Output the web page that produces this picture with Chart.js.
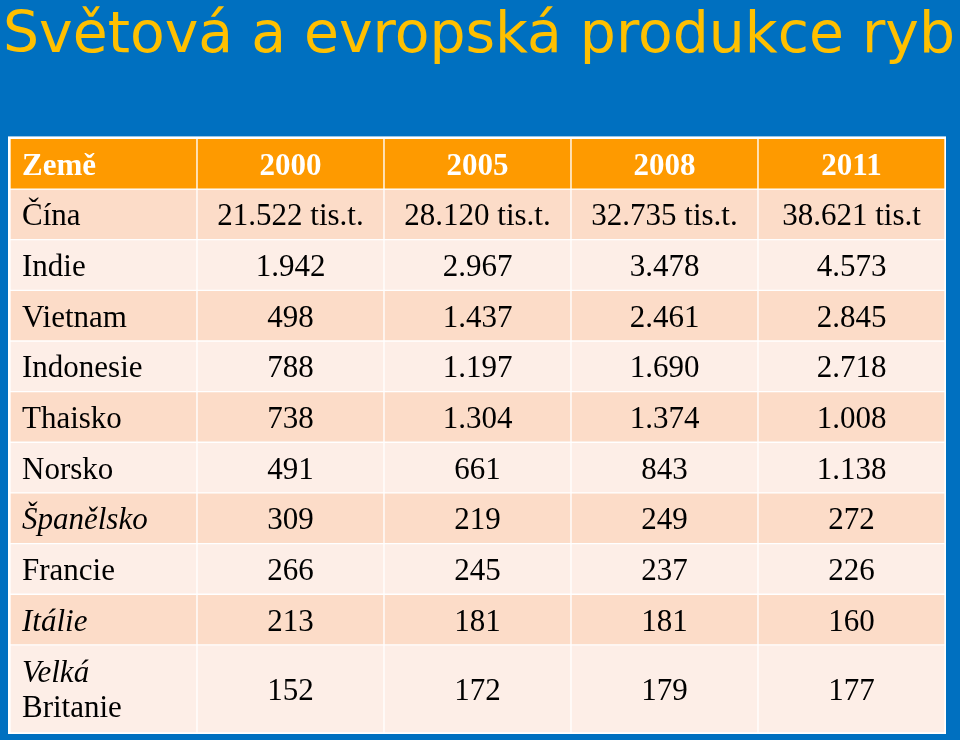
<!DOCTYPE html>
<html><head><meta charset="utf-8">
<script src="https://cdn.jsdelivr.net/npm/chart.js@4.4.1/dist/chart.umd.min.js"></script>
<style>html,body{margin:0;padding:0;background:#0070C0;overflow:hidden}#wrap{width:960px;height:740px;}</style>
</head><body><div id="wrap"><canvas id="c" width="960" height="740"></canvas></div>
<script>
// ---- data ----
const titleText = 'Světová a evropská produkce ryb';
const columns = ['Země', '2000', '2005', '2008', '2011'];
const countries = ['Čína', 'Indie', 'Vietnam', 'Indonesie', 'Thaisko', 'Norsko', 'Španělsko', 'Francie', 'Itálie', 'Velká Britanie'];
const y2000 = ['21.522 tis.t.', '1.942', '498', '788', '738', '491', '309', '266', '213', '152'];
const y2005 = ['28.120 tis.t.', '2.967', '1.437', '1.197', '1.304', '661', '219', '245', '181', '172'];
const y2008 = ['32.735 tis.t.', '3.478', '2.461', '1.690', '1.374', '843', '249', '237', '181', '179'];
const y2011 = ['38.621 tis.t', '4.573', '2.845', '2.718', '1.008', '1.138', '272', '226', '160', '177'];

// ---- table built from the arrays ----
const rows = [columns].concat(countries.map((c, i) => [c, y2000[i], y2005[i], y2008[i], y2011[i]]));

// ---- layout / style ----
const C = {
  blue: '#0070C0', titleColor: '#FFC000', header: '#FE9A00', dark: '#FCDCC8', light: '#FDEEE7',
  bodyFont: '"Liberation Serif", "Times New Roman", serif', bodySize: 31,
  titleFont: '"DejaVu Sans", sans-serif'
};
const italicWords = ['Španělsko', 'Itálie', 'Velká'];
const spans = rows.map((r, i) => (i === rows.length - 1 ? 1.74 : 1));
const tops = []; let acc = 0;
spans.forEach(s => { tops.push(acc); acc += s; });
const totalSpan = acc;

// title size fitted to the width of the slide
const mctx = document.createElement('canvas').getContext('2d');
mctx.font = '100px ' + C.titleFont;
const titleSize = Math.floor(100 * 966 / mctx.measureText(titleText).width);
const titleLH = 1.2;
const titlePadTop = Math.round(57 - 0.346 * titleSize - titleLH * titleSize / 2);
const titlePadBottom = 138 - titlePadTop - Math.round(titleLH * titleSize);

const tablePlugin = {
  id: 'tablePlugin',
  beforeDatasetsDraw(chart) {
    const a = chart.chartArea, ctx = chart.ctx;
    ctx.save(); ctx.fillStyle = '#ffffff';
    ctx.fillRect(a.left - 2, a.top - 2, a.width + 3, a.height + 3);
    ctx.restore();
  },
  afterDatasetsDraw(chart) {
    const ctx = chart.ctx, xs = chart.scales.x, ys = chart.scales.y;
    const colW = xs.getPixelForValue(1) - xs.getPixelForValue(0);
    ctx.save();
    rows.forEach((row, r) => {
      const mid = ys.getPixelForValue(tops[r] + spans[r] / 2);
      row.forEach((txt, c) => {
        const header = r === 0;
        ctx.fillStyle = header ? '#ffffff' : '#000000';
        const cx = xs.getPixelForValue(c);
        let x, align;
        if (c === 0) { x = cx - colW / 2 + 12; align = 'left'; } else { x = cx; align = 'center'; }
        ctx.textAlign = align; ctx.textBaseline = 'alphabetic';
        const setFont = (word) => {
          const it = !header && c === 0 && italicWords.includes(word);
          ctx.font = (it ? 'italic ' : '') + (header ? 'bold ' : '') + C.bodySize + 'px ' + C.bodyFont;
        };
        setFont(txt);
        if (c === 0 && ctx.measureText(txt).width > colW - 20 && txt.includes(' ')) {
          const parts = txt.split(' ');
          parts.forEach((p, k) => {
            setFont(p);
            ctx.fillText(p, x, mid - 7 + k * 35);
          });
        } else {
          ctx.fillText(txt, x, mid + 11);
        }
      });
    });
    ctx.restore();
  }
};

const datasets = rows.map((row, r) => ({
  label: row[0],
  data: columns.map(() => [tops[r], tops[r] + spans[r]]),
  backgroundColor: r === 0 ? C.header : (r % 2 === 1 ? C.dark : C.light),
  borderColor: '#ffffff', borderWidth: 1, borderSkipped: false,
  grouped: false, barPercentage: 1, categoryPercentage: 1
}));

const hiddenAxis = (pos, w) => ({
  type: 'linear', position: pos, display: true,
  grid: { display: false }, ticks: { display: false }, border: { display: false },
  afterFit(s) { s.width = w; }
});

new Chart(document.getElementById('c'), {
  type: 'bar',
  data: { labels: columns, datasets },
  options: {
    responsive: false, animation: false, events: [],
    layout: { padding: { left: 3, right: 5, top: 0, bottom: 7 } },
    plugins: {
      legend: { display: false }, tooltip: { enabled: false },
      title: {
        display: true, text: titleText, align: 'start', color: C.titleColor,
        font: { family: C.titleFont, size: titleSize, weight: 'normal', lineHeight: titleLH },
        padding: { top: titlePadTop, bottom: titlePadBottom }
      }
    },
    scales: {
      x: { type: 'category', display: false, offset: true, grid: { display: false } },
      y: Object.assign(hiddenAxis('left', 7), { min: 0, max: totalSpan, reverse: true }),
      yR: hiddenAxis('right', 10)
    }
  },
  plugins: [tablePlugin]
});
</script>
</body></html>
